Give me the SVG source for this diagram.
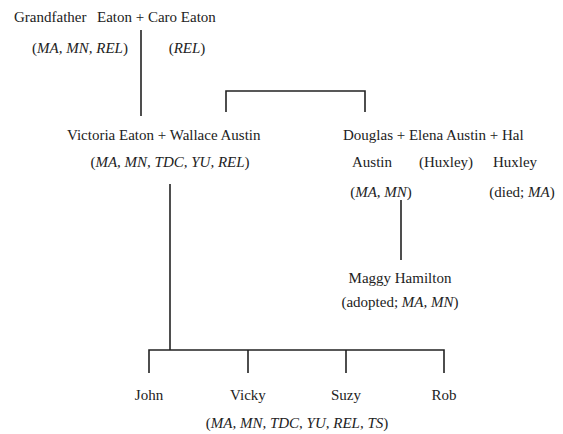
<svg xmlns="http://www.w3.org/2000/svg" width="563" height="434" viewBox="0 0 563 434">
<style>
text{font-family:"Liberation Serif","Times New Roman",serif;font-size:15px;fill:#222;}
.m{text-anchor:middle;}
.i{font-style:italic;}
.c{stroke:#222;stroke-width:1.6;fill:none;}
</style>
<rect width="563" height="434" fill="#fff"/>
<g id="connectors">
<path class="c" d="M141 30V116"/>
<path class="c" d="M226 112V91H365V112"/>
<path class="c" d="M170 184V350"/>
<path class="c" d="M149 373V350H444V373M248 350V373M346 350V373"/>
<path class="c" d="M401 200V260"/>
</g>
<g id="grandparents">
<text x="14" y="22">Grandfather<tspan x="97">Eaton + Caro Eaton</tspan></text>
<text class="m" x="80" y="53">(<tspan class="i">MA, MN, REL</tspan>)</text>
<text class="m" x="187" y="53">(<tspan class="i">REL</tspan>)</text>
</g>
<g id="victoria-wallace">
<text x="67" y="140">Victoria Eaton + Wallace Austin</text>
<text class="m" x="170" y="167">(<tspan class="i">MA, MN, TDC, YU, REL</tspan>)</text>
</g>
<g id="douglas-elena-hal">
<text x="343" y="140">Douglas + Elena Austin + Hal</text>
<text class="m" x="372" y="167">Austin</text>
<text class="m" x="446" y="167">(Huxley)</text>
<text class="m" x="515" y="167">Huxley</text>
<text class="m" x="381" y="197">(<tspan class="i">MA, MN</tspan>)</text>
<text class="m" x="522" y="197">(died; <tspan class="i">MA</tspan>)</text>
</g>
<g id="maggy">
<text class="m" x="400" y="283">Maggy Hamilton</text>
<text class="m" x="400" y="307">(adopted; <tspan class="i">MA, MN</tspan>)</text>
</g>
<g id="john"><text class="m" x="149" y="400">John</text></g>
<g id="vicky">
<text class="m" x="248" y="400">Vicky</text>
<text class="m" x="297" y="428">(<tspan class="i">MA, MN, TDC, YU, REL, TS</tspan>)</text>
</g>
<g id="suzy"><text class="m" x="346" y="400">Suzy</text></g>
<g id="rob"><text class="m" x="444" y="400">Rob</text></g>
</svg>
